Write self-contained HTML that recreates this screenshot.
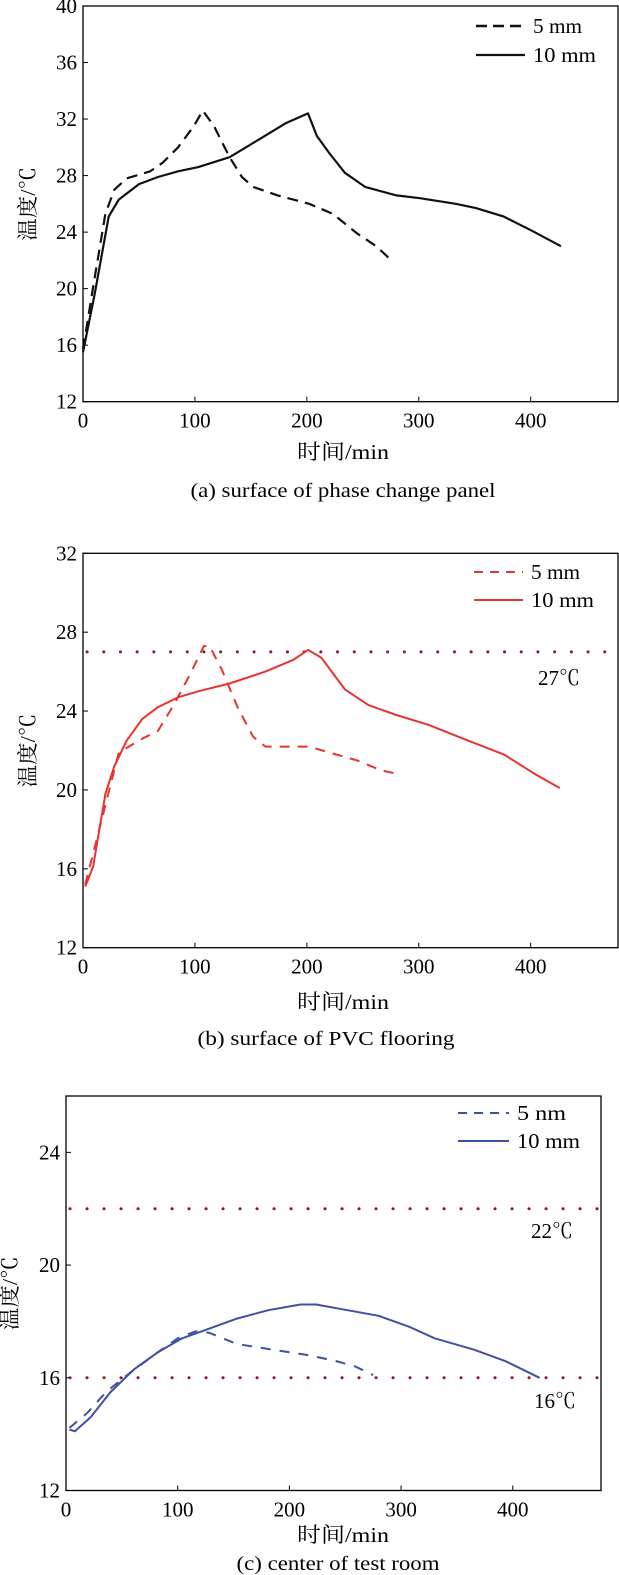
<!DOCTYPE html>
<html><head><meta charset="utf-8"><style>
body{margin:0;background:#fff;}
svg{display:block;font-family:"Liberation Serif","Noto Serif CJK SC","Noto Sans CJK SC",serif;}
</style></head><body>
<svg id="fig" width="619" height="1575" viewBox="0 0 619 1575"></svg>
<script>
// Panel (a) data
const aX10=[0,10.6,23,32,50,67,85,103,131,156,181,201,209,220,234,252,280,301,333,351,376,401,427];
const aY10=[15.5,19.7,25.1,26.3,27.4,27.9,28.3,28.6,29.3,30.5,31.7,32.4,30.8,29.6,28.2,27.2,26.6,26.4,26.0,25.7,25.1,24.1,23.0];
const aX5=[0,9,20,28,39,60,71,85,99,107,117,131,142,152,174,202,223,245,262,277];
const aY5=[15.7,20.1,25.3,27.0,27.8,28.3,28.9,30.0,31.5,32.6,31.5,29.3,27.9,27.2,26.6,26.0,25.3,23.9,23.0,21.9];
const aYTicks=[12,16,20,24,28,32,36,40];
// Panel (b) data
const bX10=[2,9,20,28,39,53,67,85,103,131,163,188,201,213,234,255,280,309,344,376,404,426];
const bY10=[15.1,16.1,19.8,21.2,22.5,23.6,24.2,24.7,25.0,25.4,26.0,26.6,27.1,26.7,25.1,24.3,23.8,23.3,22.5,21.8,20.8,20.1];
const bX5=[2,32,53,67,82,96,108,113,124,138,152,163,181,202,220,245,266,282];
const bY5=[15.2,21.9,22.6,23.0,24.4,25.9,27.3,27.3,26.1,24.2,22.7,22.2,22.2,22.2,21.9,21.5,21.0,20.8];
const bYTicks=[12,16,20,24,28,32];
// Panel (c) data
const cX10=[3,8,22,40,61,82,104,125,153,181,210,224,252,280,308,330,365,393,424];
const cY10=[14.16,14.1,14.6,15.5,16.3,16.9,17.4,17.7,18.1,18.4,18.6,18.6,18.4,18.2,17.8,17.4,17.0,16.6,16.0];
const cX5=[3,19,36,58,82,100,116,128,153,188,217,241,259,275];
const cY5=[14.22,14.75,15.5,16.2,16.9,17.4,17.65,17.6,17.2,16.98,16.8,16.6,16.4,16.1];
const cYTicks=[12,16,20,24];
const xTicks=[0,100,200,300,400];

const svg=document.getElementById('fig');
const NS='http://www.w3.org/2000/svg';
function mk(tag,attrs,parent,text){
  const e=document.createElementNS(NS,tag);
  for(const k in attrs)e.setAttribute(k,attrs[k]);
  if(text!==undefined)e.textContent=text;
  (parent||svg).appendChild(e);return e;
}
function panel(p){
  const g=mk('g',{});
  
  
  const sx=v=>p.L+(v-0)/(p.xmax)*(p.R-p.L);
  const sy=v=>p.B-(v-p.ymin)/(p.ymax-p.ymin)*(p.B-p.T);
  const frame=mk('rect',{x:p.L,y:p.T,width:p.R-p.L,height:p.B-p.T,fill:'none',stroke:'#000','stroke-width':1.3},g);
  
  
  xTicks.forEach(t=>{
    const x=sx(t);
    mk('line',{x1:x,x2:x,y1:p.B,y2:p.B-5,stroke:'#000','stroke-width':1},g);
    const lb=mk('text',{x:x,y:p.B+26,'font-size':21,'text-anchor':'middle'},g,String(t));
    
    
  });
  p.yt.forEach(t=>{
    const y=sy(t);
    mk('line',{x1:p.L,x2:p.L+5,y1:y,y2:y,stroke:'#000','stroke-width':1},g);
    const lb=mk('text',{x:p.L-6,y:y+7,'font-size':21,'text-anchor':'end'},g,String(t));
    
    
  });
  (p.refs||[]).forEach(r=>{
    const y=sy(r.v);
    const ln=mk('line',{x1:p.L+4,x2:p.R-2,y1:y,y2:y,stroke:'#8b1c1c','stroke-width':3,'stroke-dasharray':'0.1 '+p.dot,'stroke-linecap':'round'},g);
    
    
    const lt=mk('text',{x:r.lx,y:r.ly,'font-size':21,'text-anchor':'middle',textLength:42,lengthAdjust:'spacingAndGlyphs'},g,r.v+'℃');
    
    
  });
  p.series.forEach(s=>{
    const d=s.x.map((v,i)=>(i?'L':'M')+sx(v).toFixed(1)+','+sy(s.y[i]).toFixed(1)).join('');
    const path=mk('path',{d:d,fill:'none',stroke:p.color,'stroke-width':s.w,'stroke-dasharray':s.dash||'none','stroke-linejoin':'round'},g);
    
    
  });
  p.legend.forEach(l=>{
    const ll=mk('line',{x1:p.legX1,x2:p.legX2,y1:l.y,y2:l.y,stroke:p.color,'stroke-width':l.w,'stroke-dasharray':l.dash||'none'},g);
    
    
    const lt=mk('text',{x:p.legX2+8,y:l.y+7,'font-size':21,textLength:l.t.length>4?63:49,lengthAdjust:'spacingAndGlyphs'},g,l.t);
    
    
  });
  const xt=mk('text',{x:343,y:p.xtY,'font-size':21,'text-anchor':'middle',textLength:92,lengthAdjust:'spacingAndGlyphs'},g,'时间/min');
  
  
  const yt=mk('text',{x:0,y:0,'font-size':21,'text-anchor':'middle',textLength:74,lengthAdjust:'spacingAndGlyphs',transform:'translate('+(p.ytX)+','+((p.T+p.B)/2)+') rotate(-90)'},g,'温度/℃');
  
  
  const cap=mk('text',{x:p.capX,y:p.capY,'font-size':20,'text-anchor':'middle',textLength:p.capW,lengthAdjust:'spacingAndGlyphs'},g,p.cap);
  
  
}
panel({name:'panel-a',L:83,R:618,T:6,B:401.7,xmax:478,ymin:12,ymax:40,yt:aYTicks,color:'#111',
  series:[{x:aX5,y:aY5,w:2.2,dash:'11 7',nm:'series-5mm'},{x:aX10,y:aY10,w:2.2,nm:'series-10mm'}],
  legX1:476,legX2:525,legend:[{y:26,w:2.5,dash:'11 6',t:'5 mm'},{y:55,w:2.2,t:'10 mm'}],
  xtY:459,ytX:35,cap:'(a) surface of phase change panel',capX:343,capY:497,capW:305});
panel({name:'panel-b',L:83,R:618,T:553.3,B:947.7,xmax:478,ymin:12,ymax:32,yt:bYTicks,color:'#e8332f',dot:16.6,
  refs:[{v:27,lx:559,ly:685}],
  series:[{x:bX5,y:bY5,w:2,dash:'10 8',nm:'series-5mm'},{x:bX10,y:bY10,w:2,nm:'series-10mm'}],
  legX1:474,legX2:523,legend:[{y:572,w:2,dash:'9 7',t:'5 mm'},{y:600,w:2,t:'10 mm'}],
  xtY:1009,ytX:35,cap:'(b) surface of PVC flooring',capX:326,capY:1045,capW:257});
panel({name:'panel-c',L:66,R:601,T:1096,B:1490.5,xmax:479,ymin:12,ymax:26,yt:cYTicks,color:'#3e50a2',dot:16.9,
  refs:[{v:22,lx:552,ly:1238},{v:16,lx:555,ly:1408}],
  series:[{x:cX5,y:cY5,w:2,dash:'10 9',nm:'series-5mm'},{x:cX10,y:cY10,w:2,nm:'series-10mm'}],
  legX1:458,legX2:509,legend:[{y:1113,w:2,dash:'9 7',t:'5 nm'},{y:1141,w:2,t:'10 mm'}],
  xtY:1542,ytX:17,cap:'(c) center of test room',capX:338,capY:1570,capW:203});
</script>
</body></html>
